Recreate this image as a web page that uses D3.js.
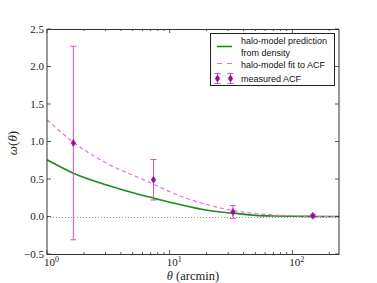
<!DOCTYPE html>
<html><head><meta charset="utf-8">
<script src="https://cdn.jsdelivr.net/npm/d3@7"></script>
<style>body{margin:0;background:#fff}svg{display:block}</style>
</head><body>
<script>
// measured ACF points
const theta = [1.64, 7.38, 32.8, 147];
const acf = [0.98, 0.49, 0.06, 0.01];
const acfErr = [1.29, 0.27, 0.085, 0.02];
// halo-model fit to ACF (dashed)
const fitTheta = [1, 1.64, 3.07, 5.74, 7.4, 10.7, 21.4, 32.8, 50, 70, 100, 150, 240];
const fitW = [1.29, 0.99, 0.71, 0.51, 0.43, 0.31, 0.147, 0.08, 0.04, 0.02, 0.01, 0.003, 0.0];
// halo-model prediction from density (solid)
const predTheta = [1, 1.64, 3.07, 5.74, 7.4, 10.7, 21.4, 32.8, 50, 70, 100, 150, 240];
const predW = [0.757, 0.578, 0.42, 0.29, 0.245, 0.18, 0.076, 0.045, 0.015, 0.007, 0.003, 0.001, 0.0];
const yTicks = [-0.5, 0.0, 0.5, 1.0, 1.5, 2.0, 2.5];
const xTicks = [1, 10, 100];
const xMinor = [2,3,4,5,6,7,8,9,20,30,40,50,60,70,80,90,200];
const legendLabels = [["halo-model prediction","from density"],["halo-model fit to ACF"],["measured ACF"]];

const W = 377, H = 283;
const L = 47, R = 339, T = 29, B = 254;
const svg = d3.select("body").append("svg").attr("width", W).attr("height", H);
const x = d3.scaleLog().domain([1, 240]).range([L, R]);
const y = d3.scaleLinear().domain([-0.5, 2.5]).range([B, T]);

const serif = "'Liberation Serif', 'DejaVu Serif', serif";
const sans = "'Liberation Sans', Arial, sans-serif";

// zero dotted line
svg.append("line").attr("x1", L).attr("x2", R).attr("y1", Math.round(y(0)) + 0.5).attr("y2", Math.round(y(0)) + 0.5)
  .attr("stroke", "#999").attr("stroke-width", 1).attr("stroke-dasharray", "1,2");

// curves
const line = d3.line().x(d => x(d[0])).y(d => y(d[1])).curve(d3.curveMonotoneX);
svg.append("path").attr("d", line(predTheta.map((t, i) => [t, predW[i]])))
  .attr("fill", "none").attr("stroke", "#1c8c1c").attr("stroke-width", 1.6);
svg.append("path").attr("d", line(fitTheta.map((t, i) => [t, fitW[i]])))
  .attr("fill", "none").attr("stroke", "#e070e0").attr("stroke-width", 1.2).attr("stroke-dasharray", "4,3");

// error bars
const errC = "#d050d0", mkC = "#990f99";
function errbar(g, cx, cy0, cy1, cy) {
  g.append("line").attr("x1", cx).attr("x2", cx).attr("y1", cy0).attr("y2", cy1).attr("stroke", errC).attr("stroke-width", 1);
  [cy0, cy1].forEach(v => g.append("line").attr("x1", cx - 3).attr("x2", cx + 3).attr("y1", v).attr("y2", v).attr("stroke", errC).attr("stroke-width", 1));
  g.append("path").attr("d", `M${cx},${cy - 3.5}L${cx + 2.3},${cy}L${cx},${cy + 3.5}L${cx - 2.3},${cy}Z`).attr("fill", mkC).attr("stroke", mkC).attr("stroke-width", 0.6);
}
const eg = svg.append("g");
theta.forEach((t, i) => errbar(eg, x(t), y(acf[i] + acfErr[i]), y(acf[i] - acfErr[i]), y(acf[i])));

// spines
const sp = svg.append("g").attr("stroke", "#333").attr("stroke-width", 1).attr("fill", "none");
sp.append("rect").attr("x", L).attr("y", T + 0.5).attr("width", R - L).attr("height", B - T);

// ticks
const tk = svg.append("g").attr("stroke", "#333").attr("stroke-width", 0.8);
yTicks.forEach(v => {
  const yy = y(v);
  tk.append("line").attr("x1", L).attr("x2", L + 4).attr("y1", yy).attr("y2", yy);
  tk.append("line").attr("x1", R).attr("x2", R - 4).attr("y1", yy).attr("y2", yy);
  svg.append("text").attr("x", 44).attr("y", yy + 3.8).attr("text-anchor", "end")
    .attr("font-family", serif).attr("font-size", 11).attr("fill", "#222")
    .text(v < 0 ? "\u2212" + Math.abs(v).toFixed(1) : v.toFixed(1));
});
xTicks.forEach(v => {
  const xx = x(v);
  tk.append("line").attr("x1", xx).attr("x2", xx).attr("y1", B).attr("y2", B - 4);
  tk.append("line").attr("x1", xx).attr("x2", xx).attr("y1", T).attr("y2", T + 4);
  const t = svg.append("text").attr("x", xx - 3).attr("y", 266).attr("text-anchor", "start")
    .attr("font-family", serif).attr("font-size", 11).attr("fill", "#222");
  t.append("tspan").text("10");
  t.append("tspan").attr("font-size", 8).attr("dy", -4).text(String(Math.round(Math.log10(v))));
});
xMinor.forEach(v => {
  const xx = x(v);
  tk.append("line").attr("x1", xx).attr("x2", xx).attr("y1", B).attr("y2", B - 2);
  tk.append("line").attr("x1", xx).attr("x2", xx).attr("y1", T).attr("y2", T + 2);
});

// axis labels
const xl = svg.append("text").attr("x", 193).attr("y", 280).attr("text-anchor", "middle")
  .attr("font-family", serif).attr("font-size", 12.5).attr("fill", "#222");
xl.append("tspan").attr("font-style", "italic").text("\u03B8");
xl.append("tspan").text(" (arcmin)");
const yl = svg.append("text").attr("transform", "translate(17,143) rotate(-90)").attr("text-anchor", "middle")
  .attr("font-family", serif).attr("font-size", 13).attr("fill", "#222");
yl.append("tspan").attr("font-style", "italic").text("\u03C9");
yl.append("tspan").text("(");
yl.append("tspan").attr("font-style", "italic").text("\u03B8");
yl.append("tspan").text(")");

// legend
const lg = svg.append("g");
lg.append("rect").attr("x", 210.5).attr("y", 33.5).attr("width", 124).attr("height", 52)
  .attr("fill", "#fff").attr("stroke", "#222").attr("stroke-width", 1);
lg.append("line").attr("x1", 217).attr("x2", 232).attr("y1", 46.5).attr("y2", 46.5).attr("stroke", "#1c8c1c").attr("stroke-width", 1.6);
lg.append("line").attr("x1", 217).attr("x2", 232).attr("y1", 63.5).attr("y2", 63.5).attr("stroke", "#e070e0").attr("stroke-width", 1.2).attr("stroke-dasharray", "5,5");
[217.5, 230.5].forEach(cx => errbar(lg, cx, 73.5, 83.5, 78.5));
const ly = [[44, 55.5], [67.5], [81.5]];
legendLabels.forEach((lines, i) => lines.forEach((s, j) =>
  lg.append("text").attr("x", 241).attr("y", ly[i][j]).attr("font-family", sans).attr("font-size", 9).attr("fill", "#111").text(s)));
</script>
</body></html>
